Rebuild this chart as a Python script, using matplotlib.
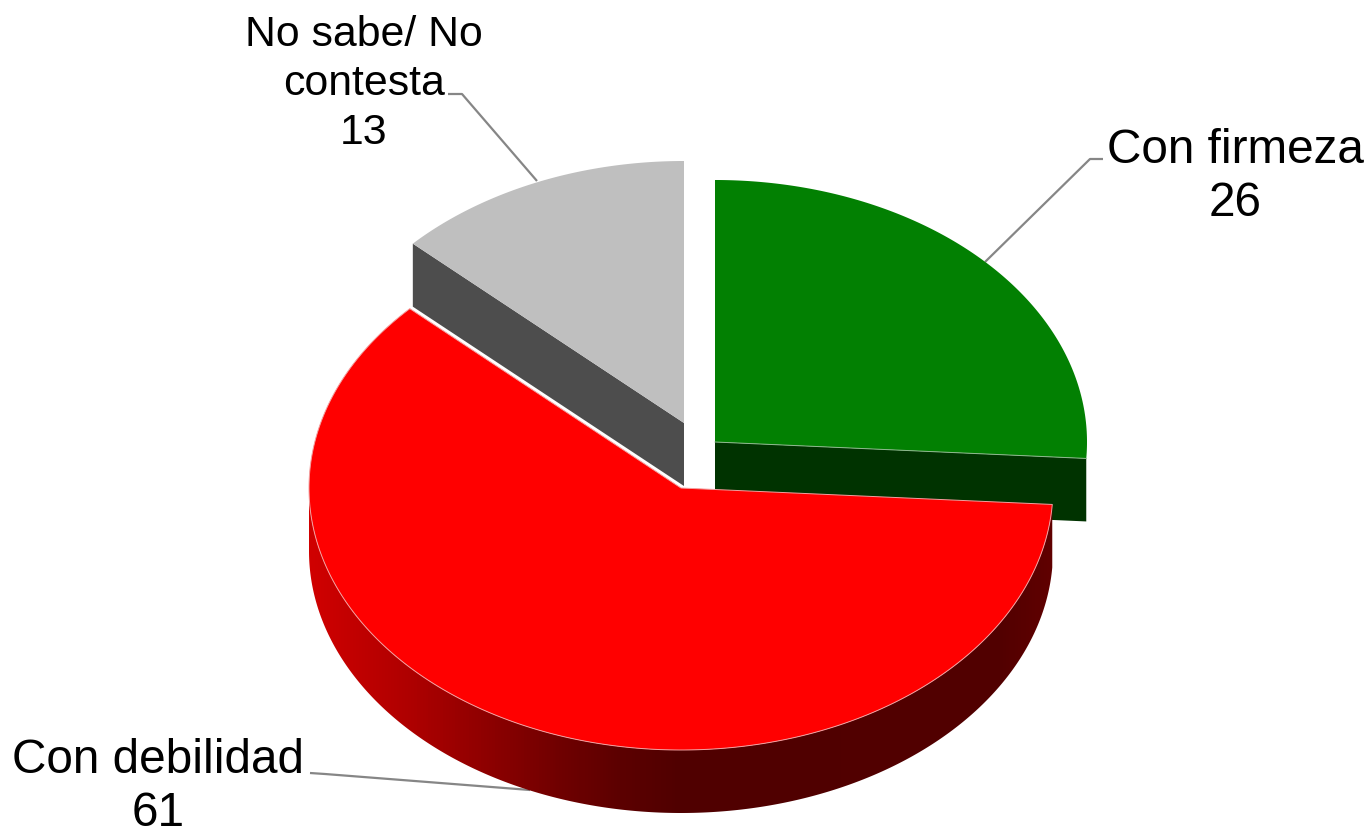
import numpy as np
import matplotlib
matplotlib.use("Agg")
import matplotlib.pyplot as plt
from matplotlib.patches import Polygon
from matplotlib.colors import LinearSegmentedColormap

categories = ["Con firmeza", "Con debilidad", "No sabe/ No\ncontesta"]
values = [26, 61, 13]

top_colors = ["#028002", "#ff0000", "#bfbfbf"]
cut_colors = ["#003300", "#600000", "#4d4d4d"]
centers = [(715, 442), (681, 488), (684, 423)]
RX, RY, DEPTH = 372, 262, 63
W, H = 1369, 830

plt.rcParams["font.family"] = ["Liberation Sans", "DejaVu Sans"]
fig = plt.figure(figsize=(W / 100, H / 100), dpi=100, facecolor="white")
ax = fig.add_axes([0, 0, 1, 1])

side_cmap = LinearSegmentedColormap.from_list(
    "side", [(0, "#d00000"), (0.135, "#ae0000"), (0.257, "#880000"),
             (0.336, "#700000"), (0.418, "#5c0000"), (0.5, "#500000"),
             (0.93, "#520000"), (1, "#600000")])

total = sum(values)
edges = np.concatenate([[0], np.cumsum(values)]) / total * 2 * np.pi


def rim(c, a0, a1, n=300):
    t = np.linspace(a0, a1, n)
    return c[0] + RX * np.sin(t), c[1] - RY * np.cos(t)


# order: gray, green, red (front most slice last)
for i in [2, 0, 1]:
    a0, a1 = edges[i], edges[i + 1]
    c = centers[i]
    x, y = rim(c, a0, a1)
    # cut faces
    if i == 2:
        ax.fill([x[0], c[0], c[0], x[0]],
                [y[0], c[1], c[1] + DEPTH, y[0] + DEPTH],
                color=cut_colors[i], lw=0, zorder=2 + i)
    if i == 0:
        ax.fill([c[0], x[-1], x[-1], c[0]],
                [c[1], y[-1], y[-1] + DEPTH, c[1] + DEPTH],
                color=cut_colors[i], lw=0, zorder=2 + i)
    # outer wall with horizontal shading
    if i == 1:
        lo, hi = max(a0, np.pi / 2), min(a1, 3 * np.pi / 2)
        xs, ys = rim(c, lo, hi, 500)
        wall = Polygon(np.c_[np.r_[xs, xs[::-1]], np.r_[ys, ys[::-1] + DEPTH]],
                       closed=True, facecolor="none", edgecolor="none",
                       transform=ax.transData)
        ax.add_patch(wall)
        grad = np.linspace(0, 1, 744).reshape(1, -1)
        im = ax.imshow(grad, cmap=side_cmap, aspect="auto", zorder=3 + i,
                       extent=(c[0] - RX, c[0] + RX, H, 0), interpolation="bilinear")
        im.set_clip_path(wall)
    # top face
    edge = "#f3a0a0" if i == 1 else "none"
    ax.fill(np.r_[c[0], x], np.r_[c[1], y], facecolor=top_colors[i],
            edgecolor=edge, lw=0.7, zorder=4 + i, joinstyle="round")
    if i == 0:
        ax.plot([c[0], x[-1]], [c[1], y[-1]], color="#8fb98f", lw=0.7, zorder=5 + i)

ax.set_xlim(0, W)
ax.set_ylim(H, 0)
ax.axis("off")

# leader lines
leaders = [([1103, 1090, 985], [159, 159, 262]),
           ([310, 325, 530], [773, 774, 790]),
           ([448, 462, 537], [94, 94, 181])]
for lx, ly in leaders:
    ax.plot(lx, ly, color="#868686", lw=1.6, zorder=3, solid_capstyle="butt")

# labels
label_pos = [(1235, 177), (158, 787), (364, 84)]
label_size = [34.4, 34.4, 30.8]
label_spacing = [1.23, 1.245, 1.30]
for cat, val, (tx, ty), fs, ls in zip(categories, values, label_pos, label_size, label_spacing):
    ax.text(tx, ty, f"{cat}\n{val}", ha="center", va="center", fontsize=fs,
            color="black", linespacing=ls, zorder=10)

fig.savefig("out.png", dpi=100, facecolor="white")
